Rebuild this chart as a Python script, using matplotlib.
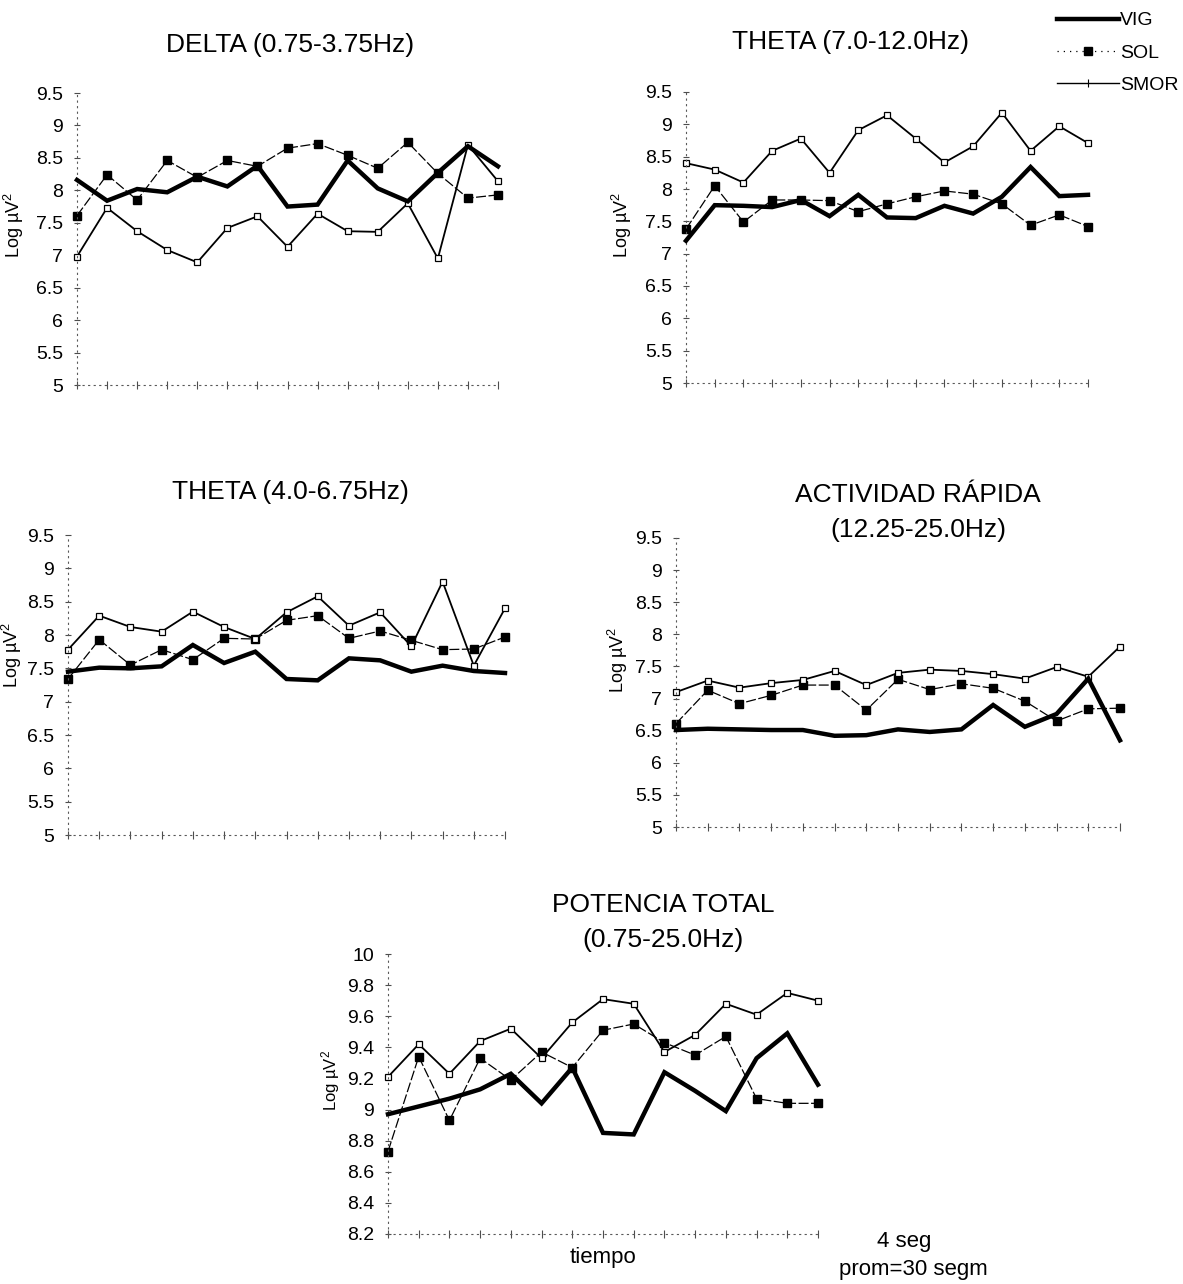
import matplotlib
matplotlib.use("Agg")
import matplotlib.pyplot as plt
from matplotlib.ticker import FuncFormatter, FixedLocator
from matplotlib.lines import Line2D

plt.rcParams['font.family'] = ['Liberation Sans', 'DejaVu Sans']
plt.rcParams['mathtext.fontset'] = 'custom'
plt.rcParams['mathtext.rm'] = 'Liberation Sans'
plt.rcParams['mathtext.it'] = 'Liberation Sans:italic'

t = list(range(1, 16))

series_names = ["VIG", "SOL", "SMOR"]

delta_vig = [8.16, 7.84, 8.02, 7.97, 8.21, 8.06, 8.38, 7.75, 7.78, 8.46, 8.03, 7.83, 8.27, 8.68, 8.37]
delta_sol = [7.61, 8.24, 7.85, 8.46, 8.20, 8.46, 8.37, 8.65, 8.72, 8.54, 8.34, 8.74, 8.26, 7.88, 7.93]
delta_smor = [6.98, 7.73, 7.37, 7.08, 6.89, 7.42, 7.60, 7.13, 7.64, 7.37, 7.36, 7.80, 6.95, 8.70, 8.14]

thetaA_vig = [7.20, 7.75, 7.74, 7.72, 7.83, 7.58, 7.91, 7.56, 7.55, 7.74, 7.62, 7.88, 8.34, 7.89, 7.91]
thetaA_sol = [7.38, 8.05, 7.49, 7.83, 7.83, 7.82, 7.65, 7.77, 7.88, 7.97, 7.92, 7.77, 7.44, 7.60, 7.42]
thetaA_smor = [8.40, 8.30, 8.10, 8.59, 8.78, 8.25, 8.91, 9.14, 8.78, 8.41, 8.66, 9.18, 8.59, 8.97, 8.71]

thetaB_vig = [7.45, 7.51, 7.50, 7.53, 7.85, 7.58, 7.75, 7.34, 7.32, 7.65, 7.62, 7.45, 7.54, 7.46, 7.43]
thetaB_sol = [7.34, 7.93, 7.55, 7.78, 7.63, 7.95, 7.94, 8.22, 8.29, 7.95, 8.06, 7.92, 7.78, 7.79, 7.97]
thetaB_smor = [7.78, 8.29, 8.12, 8.05, 8.35, 8.12, 7.94, 8.34, 8.58, 8.14, 8.34, 7.83, 8.80, 7.54, 8.40]

fast_vig = [6.51, 6.53, 6.52, 6.51, 6.51, 6.42, 6.43, 6.52, 6.48, 6.52, 6.90, 6.56, 6.76, 7.31, 6.35]
fast_sol = [6.61, 7.13, 6.92, 7.05, 7.21, 7.21, 6.82, 7.30, 7.14, 7.23, 7.16, 6.96, 6.65, 6.84, 6.85]
fast_smor = [7.10, 7.28, 7.17, 7.24, 7.29, 7.43, 7.21, 7.40, 7.45, 7.43, 7.38, 7.31, 7.49, 7.34, 7.81]

total_vig = [8.97, 9.02, 9.07, 9.13, 9.23, 9.04, 9.27, 8.85, 8.84, 9.24, 9.12, 8.99, 9.33, 9.49, 9.16]
total_sol = [8.73, 9.34, 8.93, 9.33, 9.19, 9.37, 9.27, 9.51, 9.55, 9.43, 9.35, 9.47, 9.07, 9.04, 9.04]
total_smor = [9.21, 9.42, 9.23, 9.44, 9.52, 9.33, 9.56, 9.71, 9.68, 9.37, 9.48, 9.68, 9.61, 9.75, 9.70]

ticks_a = [5, 5.5, 6, 6.5, 7, 7.5, 8, 8.5, 9, 9.5]
ticks_b = [8.2, 8.4, 8.6, 8.8, 9, 9.2, 9.4, 9.6, 9.8, 10]

W, H = 1183, 1284
fig = plt.figure(figsize=(W / 100, H / 100), dpi=100)
fig.patch.set_facecolor('white')


def px_axes(x0, x1, ytop, ybot):
    return fig.add_axes([x0 / W, 1 - ybot / H, (x1 - x0) / W, (ybot - ytop) / H])


styles = {
    "VIG": dict(color='black', lw=3.2, marker=None, solid_joinstyle='miter'),
    "SOL": dict(color='black', lw=0.9, ls=(0, (8, 2)), marker='s', ms=6,
                mfc='black', mec='black'),
    "SMOR": dict(color='black', lw=1.3, marker='s', ms=5, mfc='white',
                 mec='black', mew=0.9),
}


def draw(ax, vig, sol, smor, ylim, yticks):
    for name, vals in zip(series_names, [vig, sol, smor]):
        st = dict(styles[name])
        ax.plot(t, vals, clip_on=False, zorder=3 if name == "VIG" else 2, **st)
    ax.set_xlim(1, 15)
    ax.set_ylim(*ylim)
    ax.yaxis.set_major_locator(FixedLocator(yticks))
    ax.yaxis.set_major_formatter(FuncFormatter(lambda v, p: '%g' % v))
    ax.xaxis.set_major_locator(FixedLocator(t))
    ax.set_xticklabels([])
    for s in ['top', 'right']:
        ax.spines[s].set_visible(False)
    for s in ['left', 'bottom']:
        ax.spines[s].set_linestyle((0, (1, 4)))
        ax.spines[s].set_color('0.35')
        ax.spines[s].set_linewidth(0.8)
    ax.tick_params(axis='y', direction='inout', length=4, width=0.8,
                   labelsize=14, pad=8, color='0.3')
    ax.tick_params(axis='x', direction='inout', length=6, width=0.8,
                   color='0.3')
    ax.set_facecolor('none')


ylab = r'Log µV$^{2}$'

ax1 = px_axes(77, 498, 93, 385)
draw(ax1, delta_vig, delta_sol, delta_smor, (5, 9.5), ticks_a)
fig.text(14 / W, 1 - 225 / H, ylab, rotation=90, fontsize=13, ha='center', va='center')
fig.text(290 / W, 1 - 45 / H, "DELTA (0.75-3.75Hz)", fontsize=19, ha='center', va='center')

ax2 = px_axes(686, 1088, 92, 383)
draw(ax2, thetaA_vig, thetaA_sol, thetaA_smor, (5, 9.5), ticks_a)
fig.text(622 / W, 1 - 225 / H, ylab, rotation=90, fontsize=13, ha='center', va='center')
fig.text(851 / W, 1 - 42 / H, "THETA (7.0-12.0Hz)", fontsize=19, ha='center', va='center')

ax3 = px_axes(68, 505, 535, 835)
draw(ax3, thetaB_vig, thetaB_sol, thetaB_smor, (5, 9.5), ticks_a)
fig.text(12 / W, 1 - 655 / H, ylab, rotation=90, fontsize=13, ha='center', va='center')
fig.text(290 / W, 1 - 492 / H, "THETA (4.0-6.75Hz)", fontsize=19, ha='center', va='center')

ax4 = px_axes(676, 1120, 538, 827)
draw(ax4, fast_vig, fast_sol, fast_smor, (5, 9.5), ticks_a)
fig.text(618 / W, 1 - 660 / H, ylab, rotation=90, fontsize=13, ha='center', va='center')
fig.text(918 / W, 1 - 495 / H, "ACTIVIDAD RÁPIDA", fontsize=19, ha='center', va='center')
fig.text(918 / W, 1 - 530 / H, "(12.25-25.0Hz)", fontsize=19, ha='center', va='center')

ax5 = px_axes(388, 818, 954, 1234)
draw(ax5, total_vig, total_sol, total_smor, (8.2, 10), ticks_b)
fig.text(331 / W, 1 - 1080 / H, ylab, rotation=90, fontsize=12, ha='center', va='center')
fig.text(663 / W, 1 - 905 / H, "POTENCIA TOTAL", fontsize=19, ha='center', va='center')
fig.text(663 / W, 1 - 940 / H, "(0.75-25.0Hz)", fontsize=19, ha='center', va='center')
fig.text(603 / W, 1 - 1258 / H, "tiempo", fontsize=16, ha='center', va='center')
fig.text(904 / W, 1 - 1242 / H, "4 seg", fontsize=16, ha='center', va='center')
fig.text(913 / W, 1 - 1269 / H, "prom=30 segm", fontsize=16, ha='center', va='center')

handles = [
    Line2D([], [], color='black', lw=3.2),
    Line2D([], [], color='black', lw=0.9, ls=(0, (1, 4)), marker='s', ms=6, mfc='black'),
    Line2D([], [], color='black', lw=1.0, marker='|', ms=6, mew=0.8),
]
fig.legend(handles, series_names, loc='upper right', bbox_to_anchor=(1186 / W, 1 - 4 / H),
           frameon=False, fontsize=14, handlelength=3.2, handletextpad=0.05,
           labelspacing=0.75, borderaxespad=0)

fig.savefig("out.png", dpi=100, facecolor='white')
